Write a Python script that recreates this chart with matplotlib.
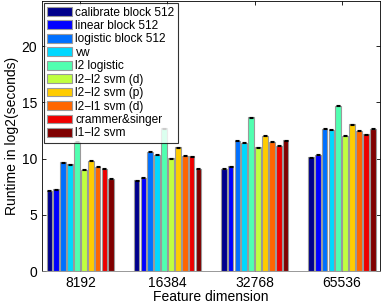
import matplotlib
matplotlib.use("Agg")
import matplotlib.pyplot as plt
import numpy as np

plt.rcParams['font.family'] = ['Liberation Sans', 'DejaVu Sans']

groups = ["8192", "16384", "32768", "65536"]
methods = ["calibrate block 512", "linear block 512", "logistic block 512", "vw",
           "l2 logistic", "l2\u2212l2 svm (d)", "l2\u2212l2 svm (p)", "l2\u2212l1 svm (d)",
           "crammer&singer", "l1\u2212l2 svm"]
colors = ["#00008c", "#0000ff", "#0070ff", "#00d8ff", "#50ffb0",
          "#c0ff40", "#ffcc00", "#ff6600", "#ee0000", "#800000"]

values = [
    [7.14, 8.10, 9.12, 10.12],   # calibrate block 512
    [7.30, 8.32, 9.33, 10.34],   # linear block 512
    [9.69, 10.63, 11.60, 12.65], # logistic block 512
    [9.50, 10.34, 11.43, 12.56], # vw
    [11.50, 12.70, 13.70, 14.72],# l2 logistic
    [9.03, 10.04, 11.02, 12.03], # l2-l2 svm (d)
    [9.80, 11.02, 12.05, 13.06], # l2-l2 svm (p)
    [9.27, 10.28, 11.49, 12.50], # l2-l1 svm (d)
    [9.10, 10.22, 11.17, 12.18], # crammer&singer
    [8.23, 9.12, 11.64, 12.65],  # l1-l2 svm
]
errors = [
    [0.04, 0.04, 0.04, 0.04] for _ in range(10)
]

fig = plt.figure(figsize=(3.82, 3.04), dpi=100)
ax = fig.add_axes([0.11, 0.108, 0.885, 0.888])

x = np.arange(1, len(groups) + 1)
n = len(methods)
step = 0.079
width = 0.066
for i in range(n):
    off = (i - (n - 1) / 2) * step
    ax.bar(x + off, values[i], width, color=colors[i], edgecolor="#9a9a9a",
           linewidth=0.8, label=methods[i], zorder=2)
    ax.errorbar(x + off, values[i], yerr=errors[i], fmt="none", ecolor="black",
                elinewidth=0.8, capsize=1.5, capthick=0.8, zorder=3)

ax.set_xlim(0.56, 4.44)
ax.set_ylim(0, 24)
ax.set_xticks(x)
ax.set_xticklabels(groups)
ax.set_yticks([0, 5, 10, 15, 20])
ax.tick_params(direction="in", top=True, right=True, length=3, labelsize=10, width=0.6)
ax.set_xlabel("Feature dimension", fontsize=10, labelpad=0)
ax.set_ylabel("Runtime in log2(seconds)", fontsize=10, labelpad=2)
for s in ax.spines.values():
    s.set_linewidth(0.6)
ax.spines['bottom'].set_color("#888888")

leg = ax.legend(loc="upper left", fontsize=8.6, frameon=True, fancybox=False,
                edgecolor="black", borderaxespad=0.15, handlelength=2.1,
                handleheight=0.75, labelspacing=0.12, handletextpad=0.25,
                borderpad=0.3)
leg.get_frame().set_linewidth(0.8)

fig.savefig("out.png", dpi=100)
